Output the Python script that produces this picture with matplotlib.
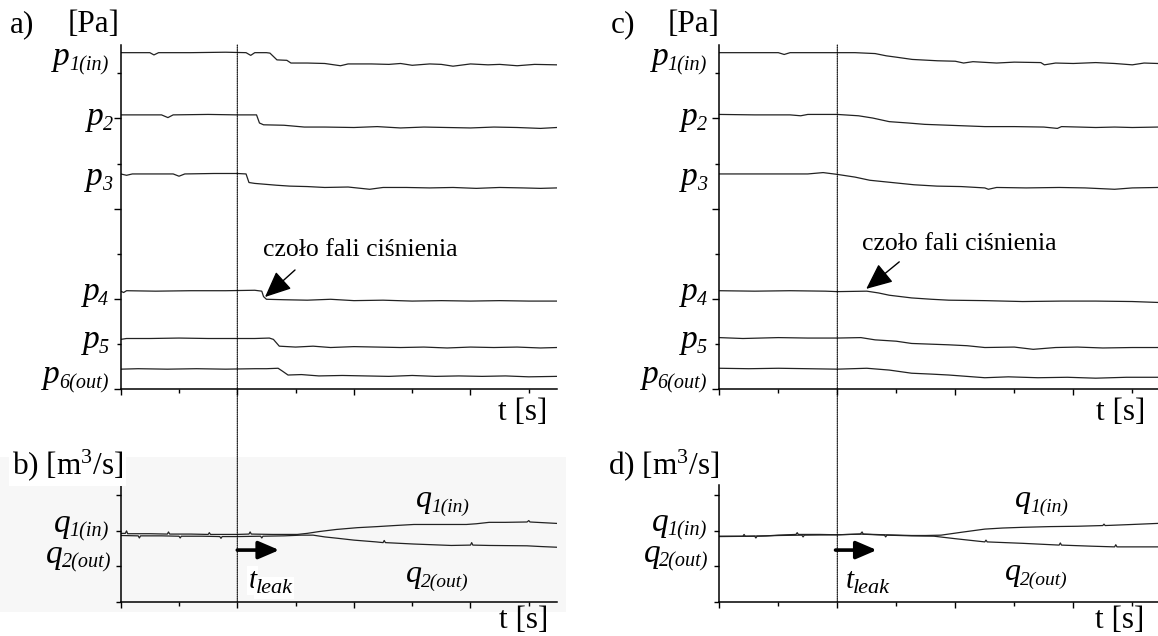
import matplotlib
matplotlib.use("Agg")
import matplotlib.pyplot as plt
from matplotlib.patches import ConnectionPatch, Rectangle
from matplotlib import transforms

plt.rcParams['font.family'] = ['Liberation Serif', 'DejaVu Serif']
plt.rcParams['mathtext.fontset'] = 'custom'
plt.rcParams['mathtext.rm'] = 'Liberation Serif'
plt.rcParams['mathtext.it'] = 'Liberation Serif:italic'

# ---------------- data ----------------
T_LEAK = 2.0

# panel a: pressures, sudden leak
p1a_t = [0, 0.5, 0.57, 0.65, 1.2, 1.8, 2.15, 2.23, 2.3, 2.5, 2.56, 2.68, 2.85, 2.92, 3.2, 3.5, 3.77, 3.9, 4.3, 4.6, 4.8, 5.0, 5.3, 5.5, 5.7, 6.0, 6.3, 6.5, 6.8, 7.1, 7.48]
p1a_v = [7.46, 7.46, 7.41, 7.46, 7.46, 7.47, 7.46, 7.40, 7.46, 7.46, 7.45, 7.30, 7.29, 7.23, 7.23, 7.22, 7.17, 7.21, 7.21, 7.20, 7.22, 7.18, 7.21, 7.20, 7.16, 7.21, 7.19, 7.20, 7.17, 7.20, 7.19]
p2a_t = [0, 0.7, 0.81, 0.9, 1.5, 2.0, 2.33, 2.38, 2.45, 2.8, 3.15, 3.5, 4.0, 4.4, 4.8, 5.2, 5.6, 6.0, 6.4, 6.8, 7.2, 7.48]
p2a_v = [6.08, 6.08, 6.02, 6.08, 6.09, 6.08, 6.08, 5.90, 5.86, 5.85, 5.81, 5.81, 5.80, 5.82, 5.79, 5.81, 5.80, 5.79, 5.81, 5.80, 5.78, 5.80]
p3a_t = [0, 0.1, 0.2, 0.9, 1.0, 1.1, 1.6, 2.0, 2.15, 2.2, 2.3, 2.67, 2.9, 3.2, 3.5, 3.9, 4.27, 4.5, 4.9, 5.3, 5.7, 6.1, 6.5, 6.9, 7.2, 7.48]
p3a_v = [4.77, 4.74, 4.77, 4.77, 4.72, 4.77, 4.78, 4.78, 4.77, 4.58, 4.56, 4.52, 4.50, 4.49, 4.47, 4.48, 4.43, 4.47, 4.47, 4.46, 4.47, 4.45, 4.47, 4.46, 4.45, 4.46]
p4a_t = [0, 0.05, 0.1, 0.6, 1.2, 1.8, 2.3, 2.42, 2.45, 2.5, 2.8, 3.2, 3.6, 4.0, 4.5, 5.0, 5.5, 6.0, 6.5, 7.0, 7.48]
p4a_v = [2.17, 2.14, 2.18, 2.17, 2.18, 2.18, 2.19, 2.17, 2.05, 1.99, 1.98, 1.97, 1.99, 1.96, 1.97, 1.95, 1.96, 1.95, 1.96, 1.95, 1.95]
p5a_t = [0, 0.1, 0.5, 1.0, 1.5, 2.0, 2.3, 2.55, 2.62, 2.72, 3.0, 3.3, 3.6, 4.0, 4.4, 4.8, 5.2, 5.6, 6.0, 6.4, 6.8, 7.2, 7.48]
p5a_v = [1.10, 1.12, 1.12, 1.13, 1.12, 1.12, 1.12, 1.13, 1.10, 0.95, 0.93, 0.95, 0.92, 0.94, 0.93, 0.92, 0.93, 0.91, 0.93, 0.92, 0.93, 0.91, 0.92]
p6a_t = [0, 0.3, 0.8, 1.3, 1.8, 2.3, 2.5, 2.7, 2.77, 2.87, 3.1, 3.4, 3.8, 4.2, 4.6, 5.0, 5.4, 5.8, 6.2, 6.6, 7.0, 7.48]
p6a_v = [0.44, 0.45, 0.44, 0.45, 0.44, 0.45, 0.45, 0.46, 0.40, 0.31, 0.32, 0.29, 0.30, 0.29, 0.28, 0.30, 0.28, 0.29, 0.28, 0.29, 0.27, 0.28]

# panel c: pressures, gradual leak
p1c_t = [0, 0.5, 1.0, 1.1, 1.2, 1.8, 2.3, 2.64, 2.83, 3.0, 3.27, 3.7, 4.0, 4.14, 4.3, 4.7, 5.0, 5.45, 5.51, 5.7, 6.0, 6.38, 6.7, 7.0, 7.2, 7.43]
p1c_v = [7.46, 7.46, 7.46, 7.42, 7.46, 7.46, 7.46, 7.44, 7.39, 7.36, 7.31, 7.28, 7.27, 7.23, 7.26, 7.23, 7.25, 7.24, 7.19, 7.23, 7.22, 7.24, 7.22, 7.19, 7.23, 7.22]
p2c_t = [0, 0.6, 1.2, 1.38, 1.5, 2.0, 2.36, 2.6, 2.88, 3.2, 3.48, 3.89, 4.5, 5.0, 5.5, 5.73, 5.8, 6.1, 6.38, 6.7, 7.0, 7.43]
p2c_v = [6.09, 6.08, 6.08, 6.06, 6.09, 6.09, 6.06, 6.01, 5.93, 5.90, 5.87, 5.85, 5.82, 5.82, 5.81, 5.78, 5.82, 5.81, 5.80, 5.81, 5.80, 5.81]
p3c_t = [0, 0.8, 1.5, 1.76, 2.0, 2.3, 2.55, 3.0, 3.3, 3.69, 4.1, 4.5, 4.56, 4.7, 5.2, 5.76, 6.2, 6.7, 7.0, 7.43]
p3c_v = [4.77, 4.77, 4.77, 4.80, 4.76, 4.70, 4.63, 4.57, 4.53, 4.50, 4.49, 4.46, 4.43, 4.47, 4.46, 4.47, 4.46, 4.43, 4.46, 4.47]
p4c_t = [0, 0.6, 1.2, 1.8, 2.0, 2.5, 2.7, 2.88, 3.26, 3.6, 3.89, 4.5, 5.14, 5.8, 6.38, 7.0, 7.43]
p4c_v = [2.18, 2.17, 2.18, 2.17, 2.16, 2.17, 2.13, 2.08, 2.02, 1.99, 1.97, 1.96, 1.94, 1.95, 1.95, 1.94, 1.92]
p5c_t = [0, 0.4, 1.0, 1.5, 2.0, 2.4, 2.64, 3.0, 3.26, 3.89, 4.2, 4.5, 5.0, 5.32, 5.7, 6.07, 6.5, 7.0, 7.43]
p5c_v = [1.14, 1.12, 1.14, 1.13, 1.13, 1.14, 1.09, 1.06, 1.01, 0.98, 0.96, 0.92, 0.93, 0.88, 0.92, 0.93, 0.91, 0.92, 0.92]
p6c_t = [0, 0.5, 1.0, 1.5, 2.0, 2.5, 2.88, 3.26, 3.6, 3.89, 4.5, 4.9, 5.4, 5.9, 6.38, 6.9, 7.43]
p6c_v = [0.46, 0.45, 0.46, 0.45, 0.44, 0.46, 0.42, 0.35, 0.33, 0.31, 0.25, 0.27, 0.25, 0.26, 0.24, 0.26, 0.26]

# panel b: flows, sudden leak
q1b_t = [0, 0.08, 0.1, 0.12, 0.5, 0.8, 0.82, 0.84, 1.2, 1.5, 1.52, 1.54, 2.0, 2.2, 2.22, 2.24, 2.6, 3.03, 3.2, 3.4, 3.7, 4.06, 4.4, 4.7, 5.03, 5.5, 5.93, 6.1, 6.32, 6.6, 6.97, 7.0, 7.02, 7.25, 7.48]
q1b_v = [1.93, 1.93, 2.00, 1.92, 1.92, 1.91, 1.97, 1.91, 1.91, 1.90, 1.95, 1.90, 1.90, 1.91, 1.97, 1.91, 1.90, 1.90, 1.93, 1.98, 2.04, 2.09, 2.12, 2.15, 2.18, 2.18, 2.18, 2.20, 2.24, 2.24, 2.25, 2.29, 2.25, 2.23, 2.21]
q2b_t = [0, 0.3, 0.32, 0.34, 0.7, 1.0, 1.02, 1.04, 1.4, 1.7, 1.72, 1.74, 2.0, 2.4, 2.42, 2.44, 2.8, 3.1, 3.3, 3.5, 3.73, 4.0, 4.38, 4.5, 4.52, 4.54, 5.03, 5.67, 6.0, 6.02, 6.04, 6.32, 6.97, 7.2, 7.48]
q2b_v = [1.87, 1.86, 1.80, 1.86, 1.86, 1.85, 1.80, 1.85, 1.85, 1.84, 1.79, 1.84, 1.84, 1.85, 1.80, 1.85, 1.86, 1.88, 1.88, 1.83, 1.79, 1.74, 1.69, 1.67, 1.73, 1.67, 1.63, 1.59, 1.60, 1.67, 1.60, 1.59, 1.58, 1.56, 1.54]

# panel d: flows, gradual leak
q1d_t = [0, 0.4, 0.42, 0.44, 0.8, 1.0, 1.3, 1.32, 1.34, 1.7, 2.0, 2.39, 2.42, 2.44, 2.8, 3.26, 3.5, 3.76, 4.1, 4.5, 4.8, 5.14, 5.6, 6.07, 6.5, 6.52, 6.54, 7.0, 7.43]
q1d_v = [1.85, 1.85, 1.90, 1.85, 1.86, 1.88, 1.90, 1.95, 1.90, 1.90, 1.89, 1.91, 1.97, 1.91, 1.89, 1.87, 1.87, 1.88, 1.96, 2.05, 2.08, 2.10, 2.12, 2.13, 2.15, 2.19, 2.15, 2.18, 2.21]
q2d_t = [0, 0.6, 0.62, 0.64, 1.0, 1.4, 1.42, 1.44, 2.0, 2.39, 2.8, 2.82, 2.84, 3.26, 3.64, 4.0, 4.5, 4.52, 4.54, 5.14, 5.76, 5.78, 5.8, 6.3, 6.7, 6.72, 6.74, 7.43]
q2d_v = [1.84, 1.85, 1.80, 1.85, 1.87, 1.88, 1.83, 1.88, 1.89, 1.91, 1.88, 1.83, 1.88, 1.86, 1.85, 1.78, 1.69, 1.74, 1.69, 1.65, 1.60, 1.66, 1.60, 1.57, 1.55, 1.61, 1.55, 1.55]

p_subs = ["1(in)", "2", "3", "4", "5", "6(out)"]
p_label_y = [7.18, 5.85, 4.52, 1.97, 0.91, 0.13]
p_label_x_a = [-0.21, -0.13, -0.15, -0.21, -0.21, -0.21]
p_label_x_c = [-0.21, -0.21, -0.21, -0.21, -0.21, -0.21]

# ---------------- figure ----------------
W, H = 1158, 636
fig = plt.figure(figsize=(W / 100, H / 100), dpi=100)
renderer = fig.canvas.get_renderer()


def fx(px):
    return px / W


def fy(py):
    return 1 - py / H


LINE = dict(color='#222222', lw=0.9)
FS_BIG = 22.5


def sub_label(ax, x, y, main, sub, fs_main, fs_sub, drop_px, ha='right', bbox=None):
    """Italic main symbol with an italic subscript, anchored at (x, y) data."""
    if ha == 'right':
        t_sub = ax.text(x, y, sub, ha='right', va='baseline', fontsize=fs_sub,
                        style='italic', clip_on=False,
                        transform=transforms.offset_copy(ax.transData, fig, x=0, y=-drop_px, units='dots'))
        w = t_sub.get_window_extent(renderer).width
        ax.text(x, y, main, ha='right', va='baseline', fontsize=fs_main, style='italic',
                clip_on=False,
                transform=transforms.offset_copy(ax.transData, fig, x=-w + 1, y=0, units='dots'))
    else:
        t_main = ax.text(x, y, main, ha='left', va='baseline', fontsize=fs_main, style='italic',
                         clip_on=False, bbox=bbox)
        w = t_main.get_window_extent(renderer).width
        ax.text(x, y, sub, ha='left', va='baseline', fontsize=fs_sub, style='italic', clip_on=False,
                transform=transforms.offset_copy(ax.transData, fig, x=w - 1, y=-drop_px, units='dots'),
                bbox=bbox)


# light grey backdrop behind panel b
fig.patches.append(Rectangle((0, fy(612)), fx(566), fy(457) - fy(612),
                             transform=fig.transFigure, facecolor='#f7f7f7',
                             edgecolor='none', zorder=-5))

ax_a = fig.add_axes([fx(120.7), fy(389), 7.48 * 58.3 / W, 344 / H])
ax_c = fig.add_axes([fx(719.3), fy(389), 7.43 * 59.0 / W, 344 / H])
ax_b = fig.add_axes([fx(120.7), fy(602), 7.48 * 58.3 / W, 117 / H])
ax_d = fig.add_axes([fx(719.3), fy(602), 7.43 * 59.0 / W, 117 / H])

for ax in (ax_a, ax_b, ax_c, ax_d):
    ax.patch.set_alpha(0)
    ax.spines['top'].set_visible(False)
    ax.spines['right'].set_visible(False)
    ax.spines['left'].set_linewidth(1.1)
    ax.spines['bottom'].set_linewidth(1.1)
    ax.set_xticks([0, 2, 4, 6])
    ax.set_xticks([1, 3, 5, 7], minor=True)
    ax.tick_params(axis='x', which='major', direction='out', length=4.5, width=1.0, labelbottom=False)
    ax.tick_params(axis='x', which='minor', direction='out', length=2.6, width=1.0)

for ax, xmax in ((ax_a, 7.48), (ax_c, 7.43)):
    ax.set_xlim(0, xmax)
    ax.set_ylim(0, 7.63)
    ax.set_yticks([0, 2, 4, 6])
    ax.set_yticks([1, 3, 5, 7], minor=True)
    ax.tick_params(axis='y', which='major', direction='out', length=5, width=1.0, labelleft=False)
    ax.tick_params(axis='y', which='minor', direction='out', length=2.6, width=1.0)

for ax, xmax in ((ax_b, 7.48), (ax_d, 7.43)):
    ax.set_xlim(0, xmax)
    ax.set_ylim(0, 3.29)
    ax.set_yticks([0, 1, 2, 3])
    ax.tick_params(axis='y', which='major', direction='out', length=3.5, width=1.0, labelleft=False)

# pressure traces
for t, v in ((p1a_t, p1a_v), (p2a_t, p2a_v), (p3a_t, p3a_v),
             (p4a_t, p4a_v), (p5a_t, p5a_v), (p6a_t, p6a_v)):
    ax_a.plot(t, v, **LINE)
for t, v in ((p1c_t, p1c_v), (p2c_t, p2c_v), (p3c_t, p3c_v),
             (p4c_t, p4c_v), (p5c_t, p5c_v), (p6c_t, p6c_v)):
    ax_c.plot(t, v, **LINE)

# flow traces
ax_b.plot(q1b_t, q1b_v, **LINE)
ax_b.plot(q2b_t, q2b_v, **LINE)
ax_d.plot(q1d_t, q1d_v, **LINE)
ax_d.plot(q2d_t, q2d_v, **LINE)

# p labels
for sub, y, xa, xc in zip(p_subs, p_label_y, p_label_x_a, p_label_x_c):
    sub_label(ax_a, xa, y, "p", sub, 24, 14.5, 5)
    sub_label(ax_c, xc, y, "p", sub, 24, 14.5, 5)

# q axis labels
sub_label(ax_b, -0.2, 1.97, "q", "1(in)", 24, 14.5, 5)
sub_label(ax_b, -0.16, 1.10, "q", "2(out)", 24, 14.5, 5)
sub_label(ax_d, -0.21, 2.0, "q", "1(in)", 24, 14.5, 5)
sub_label(ax_d, -0.18, 1.13, "q", "2(out)", 24, 14.5, 5)

# q inner labels
sub_label(ax_b, 5.97, 2.68, "q", "1(in)", 23, 14, 5)
sub_label(ax_b, 5.97, 0.57, "q", "2(out)", 23, 14, 5)
sub_label(ax_d, 5.91, 2.68, "q", "1(in)", 23, 14, 5)
sub_label(ax_d, 5.91, 0.62, "q", "2(out)", 23, 14, 5)

# t_leak labels and arrows
sub_label(ax_b, 2.19, 0.40, "t", "leak", 21, 16, 5, ha='left',
          bbox=dict(facecolor='white', edgecolor='none', pad=1))
sub_label(ax_d, 2.15, 0.40, "t", "leak", 21, 16, 5, ha='left')
ARW = dict(arrowstyle='-|>,head_length=0.7,head_width=0.3', lw=2.6, color='black',
           mutation_scale=18, shrinkA=0, shrinkB=0)
ax_b.annotate('', xy=(2.72, 1.46), xytext=(T_LEAK, 1.46), arrowprops=ARW)
ax_d.annotate('', xy=(2.67, 1.46), xytext=(1.97, 1.46), arrowprops=ARW)

# pressure wave annotations
ARW2 = dict(arrowstyle='-|>,head_length=0.9,head_width=0.4', lw=1.0, color='black',
            mutation_scale=18, shrinkA=0, shrinkB=0)
ax_a.text(2.44, 2.95, "czoło fali ciśnienia", ha='left', va='baseline', fontsize=18.5)
ax_a.annotate('', xy=(2.475, 2.04), xytext=(2.99, 2.64), arrowprops=ARW2)
ax_c.text(2.42, 3.08, "czoło fali ciśnienia", ha='left', va='baseline', fontsize=18.5)
ax_c.annotate('', xy=(2.49, 2.22), xytext=(3.05, 2.82), arrowprops=ARW2)

# dotted leak line spanning both panels
for top, bot in ((ax_a, ax_b), (ax_c, ax_d)):
    con = ConnectionPatch(xyA=(T_LEAK, 7.63), coordsA=top.transData,
                          xyB=(T_LEAK, 0), coordsB=bot.transData,
                          linestyle=(0, (1, 1)), lw=0.8, color='black',
                          shrinkA=0, shrinkB=0)
    fig.add_artist(con)

# panel titles
fig.text(fx(10), fy(32), "a)", fontsize=FS_BIG, va='baseline')
fig.text(fx(68), fy(32), "[Pa]", fontsize=FS_BIG, va='baseline')
fig.text(fx(611), fy(32), "c)", fontsize=FS_BIG, va='baseline')
fig.text(fx(668), fy(32), "[Pa]", fontsize=FS_BIG, va='baseline')
fig.text(fx(12), fy(474), r"b) [m$^3$/s]", fontsize=FS_BIG, va='baseline',
         bbox=dict(facecolor='white', edgecolor='none', pad=2))
fig.text(fx(608), fy(474), r"d) [m$^3$/s]", fontsize=FS_BIG, va='baseline')

# time axis labels
fig.text(fx(547), fy(420), "t [s]", fontsize=FS_BIG, ha='right', va='baseline')
fig.text(fx(1145), fy(420), "t [s]", fontsize=FS_BIG, ha='right', va='baseline')
fig.text(fx(548), fy(628), "t [s]", fontsize=FS_BIG, ha='right', va='baseline')
fig.text(fx(1144), fy(628), "t [s]", fontsize=FS_BIG, ha='right', va='baseline')

fig.savefig("out.png", dpi=100)
